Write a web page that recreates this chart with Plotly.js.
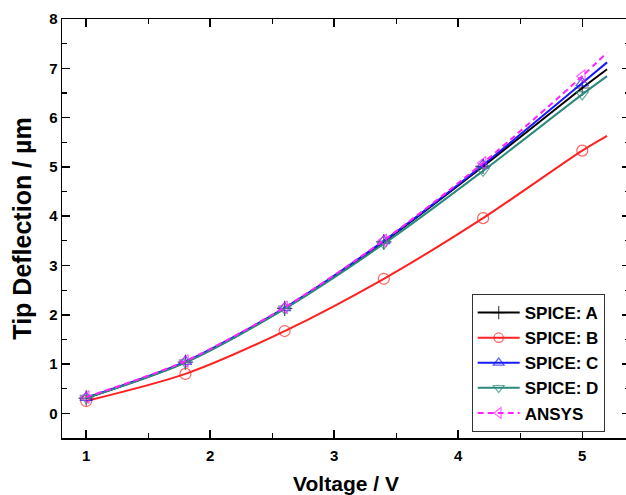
<!DOCTYPE html>
<html>
<head>
<meta charset="utf-8">
<script src="https://cdn.plot.ly/plotly-3.0.1.min.js"></script>
<style>
html,body{margin:0;padding:0;width:626px;height:495px;overflow:hidden;background:#fff;}
#chart{width:631px;height:495px;}
</style>
</head>
<body>
<div id="chart"></div>
<script>
const voltage = [1.0, 1.8, 2.6, 3.4, 4.2, 5.0, 5.2];
const spiceA = [0.31, 1.04, 2.13, 3.48, 5.01, 6.60, 6.98];
const spiceB = [0.25, 0.80, 1.67, 2.73, 3.96, 5.33, 5.63];
const spiceC = [0.32, 1.05, 2.14, 3.50, 5.04, 6.70, 7.12];
const spiceD = [0.31, 1.03, 2.12, 3.44, 4.92, 6.47, 6.84];
const ansys  = [0.33, 1.06, 2.15, 3.51, 5.08, 6.84, 7.32];
const seriesNames = ['SPICE: A', 'SPICE: B', 'SPICE: C', 'SPICE: D', 'ANSYS'];

const msz = voltage.map((v, i) => i < voltage.length - 1 ? 11 : 0);

function tr(name, y, color, symbol, dash) {
  return {
    x: voltage, y: y, name: name, type: 'scatter', mode: 'lines+markers',
    line: {color: color, width: 2, shape: 'spline', smoothing: 0.8, dash: dash || 'solid'},
    marker: {symbol: symbol, size: msz, color: color, line: {color: color, width: 1.2}}
  };
}

const data = [
  tr(seriesNames[0], spiceA, '#000000', 'cross-thin-open'),
  tr(seriesNames[1], spiceB, '#ff2020', 'circle-open'),
  tr(seriesNames[2], spiceC, '#1a1aff', 'triangle-up-open'),
  tr(seriesNames[3], spiceD, '#2a8a7c', 'triangle-down-open'),
  tr(seriesNames[4], ansys, '#ff22ff', 'triangle-left-open', '6px,4px')
];

const fontFam = 'Liberation Sans, Arial, sans-serif';
const axisCommon = {
  showgrid: false, zeroline: false, showline: true, linecolor: '#000', linewidth: 1.5,
  mirror: 'allticks', ticks: 'inside', ticklen: 8, tickwidth: 1.5, tickcolor: '#000',
  tickfont: {family: fontFam, size: 15, color: '#000', weight: 'bold'},
  dtick: 1,
  minor: {ticks: 'inside', dtick: 0.5, ticklen: 5, tickwidth: 1.2, tickcolor: '#000'}
};

const layout = {
  width: 631, height: 495,
  margin: {l: 62, r: 1, t: 19, b: 57},
  paper_bgcolor: '#fff', plot_bgcolor: '#fff',
  showlegend: true,
  xaxis: Object.assign({}, axisCommon, {
    range: [0.805, 5.385], tick0: 0, ticklabelstandoff: 3,
    title: {text: 'Voltage / V', font: {family: fontFam, size: 21, color: '#000', weight: 'bold'}, standoff: 16}
  }),
  yaxis: Object.assign({}, axisCommon, {
    range: [-0.5, 8], tick0: 0,
    title: {text: 'Tip Deflection / µm', font: {family: fontFam, size: 25, color: '#000', weight: 'bold'}, standoff: 10}
  }),
  legend: {
    x: 0.7213, y: 0.0143, xanchor: 'left', yanchor: 'bottom',
    bgcolor: '#fff', bordercolor: '#333', borderwidth: 1,
    font: {family: fontFam, size: 17, color: '#000', weight: 'bold'},
    tracegroupgap: 0, itemwidth: 42
  }
};

Plotly.newPlot('chart', data, layout, {staticPlot: true, displayModeBar: false});
</script>
</body>
</html>
